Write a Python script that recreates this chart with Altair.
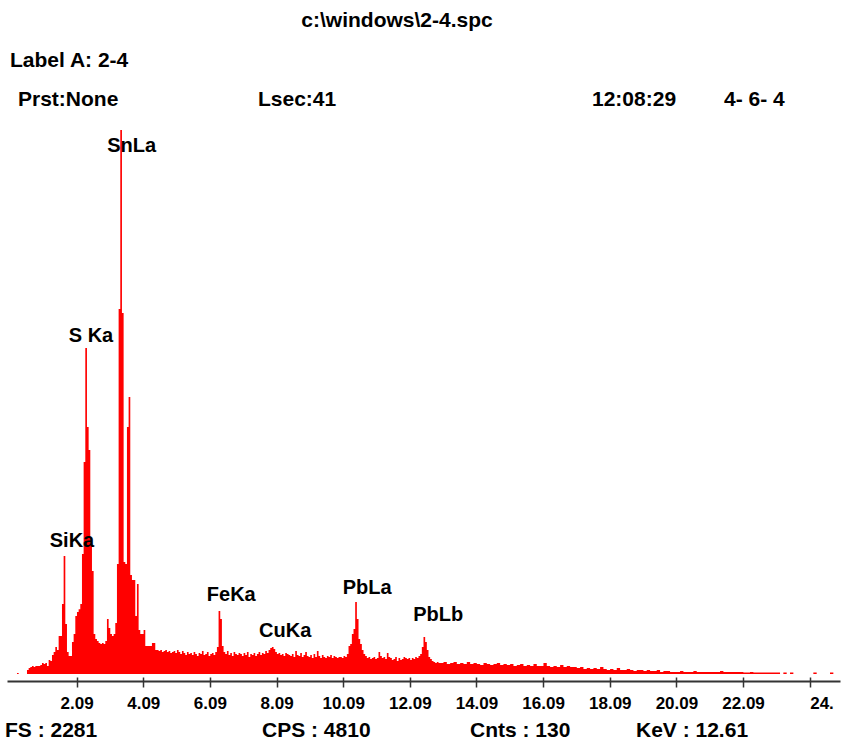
import json
import pandas as pd
import altair as alt

# ---------------- data ----------------
# EDS spectrum, counts per channel; each segment has its own energy grid (keV)
low_start, low_step = 0.30, 0.05
counts_low = [
    4, 0, 0, 0, 0, 0, 17, 25, 29, 34,
    29, 34, 34, 34, 38, 46, 42, 46, 34, 59,
    55, 80, 92, 113, 101, 159, 159, 293, 495, 210,
    92, 75, 75, 134, 168, 243, 260, 272, 293, 503,
    889, 1367, 1036, 939, 549, 432, 168, 147, 138, 130,
    126, 130, 126, 138, 231, 193, 168, 159, 168, 214,
    461, 1530, 2281, 1514, 470, 461, 1036, 1161, 415, 394,
    394, 243, 377, 184, 168, 168, 184, 117, 117, 117,
    117, 130, 130, 101, 101, 96, 101, 92, 96, 101,
    92, 96, 88, 92,
]
mid_start, mid_step = 5.00, 0.05
counts_mid = [
    96, 88, 101, 92, 84, 96, 88, 80, 92, 84,
    88, 80, 92, 84, 75, 88, 84, 96, 80, 84,
    92, 75, 84, 88, 80, 92, 113, 264, 231, 117,
    92, 84, 96, 80, 88, 75, 92, 84, 80, 88,
    84, 75, 88, 80, 92, 71, 84, 80, 88, 75,
    84, 92, 80, 88, 84, 96, 88, 101, 109, 113,
    105, 92, 84, 88, 80, 84, 75, 88, 84, 80,
    75, 84, 71, 96, 80, 75, 88, 71, 80, 92,
    75, 71, 80, 67, 84, 71, 96, 75, 67, 80,
    71, 67, 75, 71, 80, 67, 75, 71, 67, 71,
    71, 67, 75, 71, 84, 117, 126, 168, 189, 302,
    231, 147, 126, 101, 84, 75, 67, 71, 63, 67,
    71, 63, 67, 92, 75, 67, 71, 63, 88, 71,
    67, 59, 63, 71, 55, 67, 59, 63, 71, 67,
    63, 67, 59, 67, 63, 71, 67, 75, 84, 113,
    155, 134, 101, 71, 63, 55, 50, 46, 50, 46,
]
high_start, high_step = 13.0, 0.1
counts_high = [
    46, 50, 42, 46, 50, 42, 46, 42, 50, 42,
    46, 42, 38, 46, 42, 38, 42, 46, 38, 42,
    38, 42, 34, 38, 42, 34, 38, 34, 42, 34,
    34, 46, 34, 29, 34, 29, 38, 29, 34, 29,
    29, 25, 29, 21, 25, 21, 25, 21, 29, 21,
    17, 21, 17, 25, 17, 17, 21, 17, 13, 17,
    17, 13, 17, 13, 13, 17, 8, 13, 13, 8,
    8, 8, 13, 8, 8, 8, 13, 8, 8, 8,
    8, 8, 8, 8, 13, 8, 8, 8, 8, 8,
    8, 6, 6, 8, 6, 6, 6, 6, 6, 6,
    6, 6, 0, 6, 0, 6, 0, 0, 0, 0,
    0, 0, 6, 0, 0, 0, 0, 6, 0, 0,
]
end_kev = 25.0
full_scale = 2281

peak_names = ["SiKa", "S Ka", "SnLa", "FeKa", "CuKa", "PbLa", "PbLb"]
peak_label_kev = [1.95, 2.52, 3.74, 6.73, 8.35, 10.81, 12.94]
peak_label_cnt = [558, 1417, 2214, 331, 180, 361, 247]

tick_values = [2.09, 4.09, 6.09, 8.09, 10.09, 12.09, 14.09, 16.09, 18.09, 20.09, 22.09, 24.09]
tick_labels = ["2.09", "4.09", "6.09", "8.09", "10.09", "12.09", "14.09", "16.09",
               "18.09", "20.09", "22.09", "24."]

file_name = "c:\\windows\\2-4.spc"
label_a = "Label A: 2-4"
prst = "Prst:None"
lsec = "Lsec:41"
clock = "12:08:29"
date = "4- 6- 4"
fs_text = "FS : 2281"
cps_text = "CPS : 4810"
cnts_text = "Cnts : 130"
kev_text = "KeV : 12.61"

# ---------------- build tables ----------------
rows = []
for start, step, arr in [(low_start, low_step, counts_low),
                         (mid_start, mid_step, counts_mid),
                         (high_start, high_step, counts_high)]:
    for i, c in enumerate(arr):
        rows.append({"keV": round(start + step * i, 4), "cnt": c})
rows.append({"keV": end_kev, "cnt": 0})
spec = pd.DataFrame(rows)

peaks = pd.DataFrame({"name": peak_names, "keV": peak_label_kev, "cnt": peak_label_cnt})

# ---------------- chart ----------------
W, H = 833, 544
FONT = "Liberation Sans, Arial, sans-serif"
xscale = alt.Scale(domain=[0, end_kev], nice=False, zero=False)
yscale = alt.Scale(domain=[0, full_scale], nice=False)

label_expr = (
    f"indexof({json.dumps(tick_values)}, datum.value) >= 0 ? "
    f"{json.dumps(tick_labels)}[indexof({json.dumps(tick_values)}, datum.value)] : datum.label"
)

axis_ticks = alt.Axis(
    orient="bottom", offset=3, domain=False, values=tick_values, labelExpr=label_expr,
    tickSize=10, tickWidth=1.5, tickColor="#333333", grid=False, title=None,
    labelFont=FONT, labelFontSize=17, labelFontWeight="bold", labelColor="black",
    labelPadding=8, labelOverlap=False, labelFlush=False, labelBound=False,
    labelAlign={"condition": {"test": "datum.value > 24", "value": "left"}, "value": "center"},
)
axis_line = alt.Axis(
    orient="bottom", offset=7, domain=True, domainColor="#333333", domainWidth=2,
    ticks=False, labels=False, grid=False, title=None,
)

area = alt.Chart(spec).mark_area(color="#ff0000", interpolate="step-after").encode(
    x=alt.X("keV:Q", scale=xscale, axis=axis_ticks),
    y=alt.Y("cnt:Q", scale=yscale, axis=None),
)

peak_text = alt.Chart(peaks).mark_text(
    font=FONT, fontSize=20, fontWeight="bold", color="black", align="center", baseline="middle"
).encode(
    x=alt.X("keV:Q", scale=xscale, axis=axis_line),
    y=alt.Y("cnt:Q", scale=yscale, axis=None),
    text="name:N",
)

# header / footer texts (pixel positions relative to the plot origin)
header_items = [
    (file_name, 390, -109, "center"),
    (label_a, 3, -69, "left"),
    (prst, 11, -30, "left"),
    (lsec, 251, -30, "left"),
    (clock, 585, -30, "left"),
    (date, 717, -30, "left"),
    (fs_text, -2, 601, "left"),
    (cps_text, 255, 601, "left"),
    (cnts_text, 463, 601, "left"),
    (kev_text, 629, 601, "left"),
]
header_layers = []
for txt, px, py, al in header_items:
    header_layers.append(
        alt.Chart(pd.DataFrame({"t": [txt]})).mark_text(
            font=FONT, fontSize=21, fontWeight="bold", color="black", align=al, baseline="middle"
        ).encode(text="t:N", x=alt.value(px), y=alt.value(py))
    )

chart = alt.layer(area, peak_text, *header_layers).resolve_axis(x="independent").properties(
    width=W, height=H,
    autosize=alt.AutoSizeParams(type="none"),
    padding={"left": 7, "top": 130, "right": 3, "bottom": 66},
    background="white",
).configure_view(stroke=None)

chart.save("out.html", embed_options={"renderer": "svg", "actions": False})
